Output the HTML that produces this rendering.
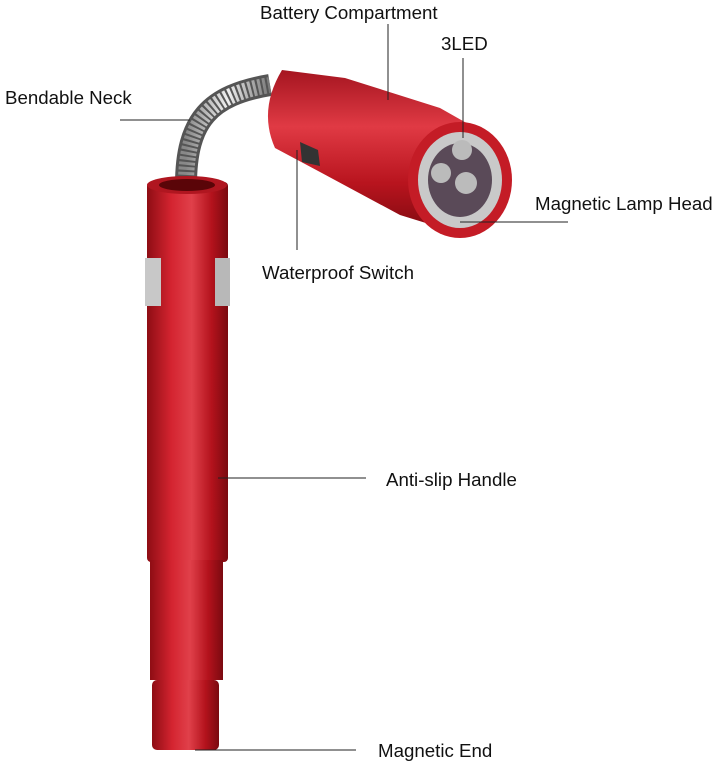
<!DOCTYPE html>
<html><head><meta charset="utf-8"><style>
html,body{margin:0;padding:0;background:#fff;}
.w{position:relative;width:717px;height:768px;overflow:hidden;}
.t{position:absolute;font-family:"Liberation Sans",sans-serif;font-size:18.7px;color:#111;white-space:nowrap;}
</style></head><body><div class="w">
<svg width="717" height="768" style="position:absolute;left:0;top:0">
<defs>
<linearGradient id="h" x1="0" x2="1" y1="0" y2="0">
<stop offset="0" stop-color="#8e0d14"/><stop offset="0.3" stop-color="#d42430"/><stop offset="0.55" stop-color="#e0404a"/><stop offset="0.8" stop-color="#b3121c"/><stop offset="1" stop-color="#7a0a10"/></linearGradient>
<linearGradient id="hd" x1="0" x2="0" y1="0" y2="1">
<stop offset="0" stop-color="#a51520"/><stop offset="0.35" stop-color="#e03a44"/><stop offset="0.7" stop-color="#b8141e"/><stop offset="1" stop-color="#800a10"/></linearGradient>
<linearGradient id="s" x1="0" x2="1"><stop offset="0" stop-color="#888"/><stop offset="0.5" stop-color="#eee"/><stop offset="1" stop-color="#777"/></linearGradient>
</defs>
<path d="M186 185 C186 120 210 95 270 85" stroke="#555" stroke-width="22" fill="none"/>
<path d="M186 185 C186 120 210 95 270 85" stroke="url(#s)" stroke-width="16" fill="none" stroke-dasharray="3 2"/>
<rect x="147" y="182" width="81" height="380" rx="4" fill="url(#h)"/>
<ellipse cx="187" cy="185" rx="40" ry="9" fill="#b01620"/>
<ellipse cx="187" cy="185" rx="28" ry="6" fill="#5a0508"/>
<rect x="145" y="258" width="16" height="48" fill="#c8c8c8"/>
<rect x="215" y="258" width="15" height="48" fill="#b8b8b8"/>
<rect x="150" y="560" width="73" height="120" fill="url(#h)"/>
<rect x="152" y="680" width="67" height="70" rx="5" fill="url(#h)"/>
<path d="M282 70 L345 78 L440 108 L470 125 L455 232 L400 215 L320 172 L275 148 Q258 110 282 70Z" fill="url(#hd)"/>
<path d="M300 142 L318 150 L320 166 L302 162Z" fill="#333"/>
<ellipse cx="460" cy="180" rx="52" ry="58" fill="#c41c26"/>
<ellipse cx="460" cy="180" rx="42" ry="48" fill="#c9c9c9"/>
<ellipse cx="460" cy="180" rx="32" ry="37" fill="#5a4a58"/>
<circle cx="462" cy="150" r="10" fill="#bbb"/><circle cx="441" cy="173" r="10" fill="#bbb"/><circle cx="466" cy="183" r="11" fill="#bbb"/>
<g stroke="#222" stroke-width="1">
<line x1="388" y1="24" x2="388" y2="100"/>
<line x1="463" y1="58" x2="463" y2="138"/>
<line x1="120" y1="120" x2="190" y2="120"/>
<line x1="460" y1="222" x2="568" y2="222"/>
<line x1="297" y1="150" x2="297" y2="250"/>
<line x1="218" y1="478" x2="366" y2="478"/>
<line x1="195" y1="750" x2="356" y2="750"/>
</g>
</svg>
<div class="t" style="left:260px;top:2px">Battery Compartment</div>
<div class="t" style="left:441px;top:33px">3LED</div>
<div class="t" style="left:5px;top:87px">Bendable Neck</div>
<div class="t" style="left:535px;top:193px">Magnetic Lamp Head</div>
<div class="t" style="left:262px;top:262px">Waterproof Switch</div>
<div class="t" style="left:386px;top:469px">Anti-slip Handle</div>
<div class="t" style="left:378px;top:740px">Magnetic End</div>
</div></body></html>
